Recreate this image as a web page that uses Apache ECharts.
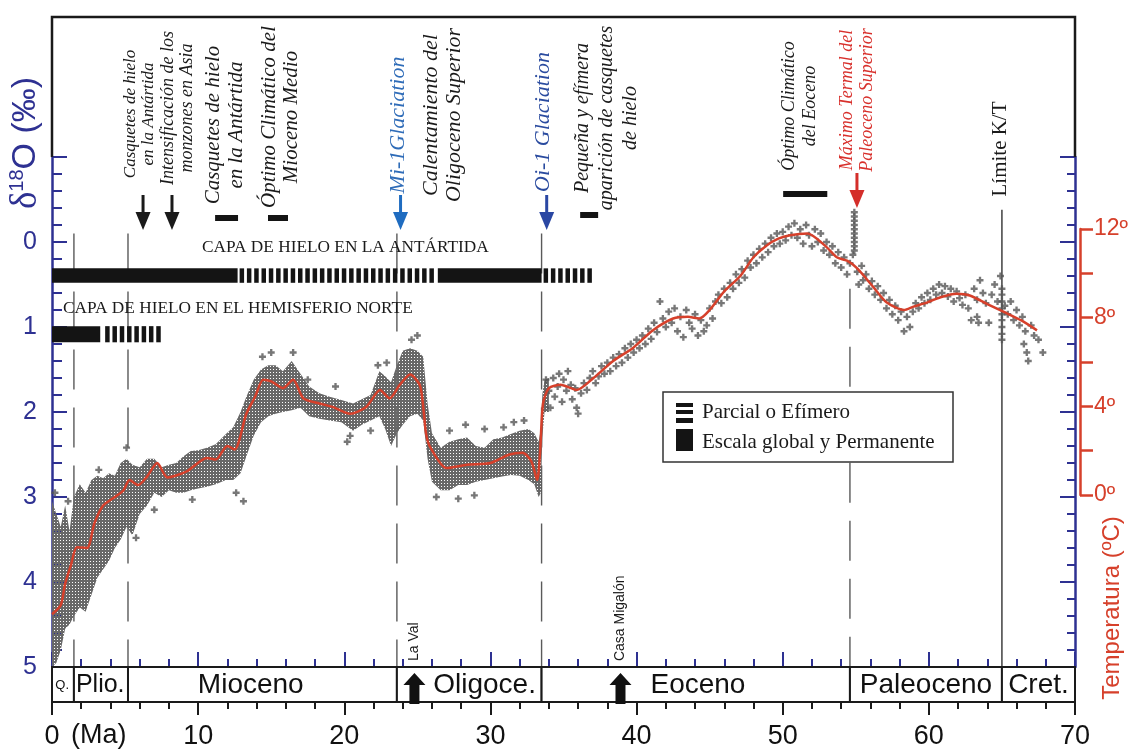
<!DOCTYPE html>
<html>
<head>
<meta charset="utf-8">
<script src="https://cdn.jsdelivr.net/npm/echarts@6.0.0/dist/echarts.min.js"></script>
<style>
html,body{margin:0;padding:0;background:#ffffff;}
#chart{width:1131px;height:752px;}
</style>
</head>
<body>
<div id="chart"></div>
<script>
// ================= DATA =================
// smoothed δ18O curve [age Ma, δ18O ‰]
const curvePts = [
[0.0,4.38],[0.6,4.27],[0.9,4.02],[1.3,3.8],[1.7,3.59],[2.4,3.6],[2.9,3.31],[3.5,3.1],[4.3,3.0],[4.9,2.92],
[5.3,2.8],[5.9,2.86],[6.5,2.76],[7.2,2.6],[7.9,2.77],[9.2,2.70],[10.6,2.54],[11.2,2.56],[12.0,2.40],[12.5,2.44],
[13.3,2.02],[13.9,1.82],[14.45,1.62],[15.0,1.64],[15.8,1.72],[16.5,1.62],[17.2,1.84],[18.3,1.90],[19.2,1.94],[20.4,2.02],
[21.5,1.94],[22.45,1.74],[23.1,1.84],[23.8,1.68],[24.5,1.56],[25.2,1.70],[25.6,2.26],[25.9,2.42],[27.0,2.66],[28.4,2.62],
[30.0,2.60],[31.3,2.50],[32.2,2.48],[32.8,2.58],[33.2,2.80],[33.4,2.46],[33.6,1.90],[34.0,1.72],[34.8,1.68],[35.9,1.74],
[37.05,1.60],[38.4,1.40],[39.8,1.24],[41.1,1.04],[42.5,0.90],[43.5,0.88],[44.3,0.90],[45.0,0.80],[46.0,0.58],[47.1,0.40],
[48.0,0.18],[48.9,0.04],[49.7,-0.04],[50.5,-0.08],[51.7,-0.10],[53.0,0.06],[53.7,0.18],[54.4,0.22],[55.1,0.31],[56.2,0.53],
[57.1,0.71],[58.3,0.80],[58.95,0.76],[59.9,0.71],[60.8,0.65],[61.9,0.61],[62.8,0.63],[64.0,0.73],[65.1,0.82],[66.3,0.92],[67.4,1.04]
];
// dense cloud of measurements: [age, lightest δ18O, heaviest δ18O]
const cloudBand = [
[0.0,3.05,5.0],[0.3,3.2,4.95],[0.6,3.35,4.8],[0.9,3.1,4.55],[1.2,3.4,4.5],[1.5,3.0,4.4],[1.9,2.85,4.3],[2.3,2.95,4.35],
[2.7,2.8,4.15],[3.1,2.75,3.95],[3.5,2.78,3.85],[3.9,2.72,3.75],[4.3,2.75,3.6],[4.7,2.6,3.5],[5.1,2.55,3.35],[5.5,2.62,3.45],
[6.0,2.65,3.2],[6.5,2.55,3.1],[7.0,2.55,2.95],[7.5,2.65,3.0],[8.0,2.62,2.92],[8.5,2.6,2.95],[9.0,2.52,2.95],[9.5,2.46,2.92],
[10.0,2.45,2.9],[10.6,2.42,2.88],[11.2,2.38,2.85],[11.9,2.26,2.8],[12.4,2.18,2.8],[12.9,2.0,2.72],[13.3,1.82,2.52],[13.8,1.62,2.28],
[14.3,1.5,2.12],[14.8,1.45,2.05],[15.3,1.45,2.02],[15.8,1.52,2.0],[16.4,1.4,1.98],[17.0,1.55,1.95],[17.6,1.7,2.05],[18.3,1.78,2.08],
[19.0,1.82,2.1],[19.8,1.86,2.12],[20.6,1.9,2.22],[21.2,1.85,2.15],[21.8,1.8,2.1],[22.4,1.52,2.05],[22.8,1.58,2.2],[23.2,1.65,2.4],
[23.6,1.45,2.25],[24.0,1.28,2.15],[24.5,1.25,2.05],[25.0,1.28,2.02],[25.4,1.35,2.1],[25.7,1.9,2.55],[26.0,2.25,2.82],[26.6,2.42,2.92],
[27.2,2.35,2.92],[27.8,2.32,2.86],[28.4,2.3,2.86],[29.0,2.4,2.82],[29.6,2.42,2.8],[30.2,2.32,2.78],[30.8,2.3,2.76],[31.4,2.26,2.74],
[32.0,2.22,2.75],[32.6,2.2,2.8],[33.0,2.25,2.85],[33.3,2.35,3.0],[33.45,2.2,2.95],[33.55,1.8,2.3],[33.7,1.62,2.0],[34.0,1.6,2.0]
];
// individual measurements [age, δ18O]
const scatterPts = [
[0.2,2.95],[1.1,3.05],[3.2,2.68],[5.1,2.42],[5.75,3.48],[7.0,3.15],[9.6,3.03],[12.6,2.95],[13.1,3.05],[14.4,1.35],
[15.0,1.3],[16.5,1.3],[17.5,1.62],[19.4,1.7],[20.2,2.35],[20.4,2.28],[21.8,2.22],[22.3,1.45],[22.9,1.42],[24.6,1.15],
[25.0,1.1],[26.3,3.0],[27.2,2.22],[28.3,2.15],[28.9,2.98],[29.6,2.2],[30.9,2.18],[31.6,2.12],[32.3,2.1],[27.8,3.02],
[33.8,1.62],[34.0,1.75],[34.1,1.95],[34.3,1.6],[34.4,1.82],[34.6,1.7],[34.7,1.55],[34.9,1.88],[35.0,1.62],[35.2,1.75],
[35.3,1.52],[35.5,1.68],[35.6,1.85],[35.8,1.72],[35.9,1.95],[36.0,2.02],[36.2,1.78],[36.4,1.66],[36.6,1.74],[36.8,1.6],
[37.0,1.52],[37.2,1.66],[37.4,1.58],[37.6,1.46],[37.8,1.55],[38.0,1.42],[38.2,1.52],[38.4,1.36],[38.6,1.46],[38.8,1.32],
[39.0,1.42],[39.2,1.25],[39.4,1.36],[39.6,1.2],[39.8,1.3],[40.0,1.15],[40.2,1.25],[40.4,1.1],[40.6,1.2],[40.8,1.02],
[41.0,1.14],[41.2,0.95],[41.4,1.06],[41.6,0.7],[41.8,0.9],[42.0,1.0],[42.2,0.82],[42.4,0.95],[42.6,0.78],[42.8,1.05],
[43.0,0.88],[43.2,1.12],[43.4,0.8],[43.6,0.95],[43.8,1.02],[44.0,0.85],[44.2,1.1],[44.4,0.92],[44.6,1.05],[44.8,0.98],
[45.0,0.78],[45.2,0.9],[45.4,0.7],[45.6,0.62],[45.8,0.72],[46.0,0.55],[46.2,0.65],[46.4,0.48],[46.6,0.55],[46.8,0.38],
[47.0,0.48],[47.2,0.32],[47.4,0.42],[47.6,0.22],[47.8,0.3],[48.0,0.15],[48.2,0.25],[48.4,0.08],[48.6,0.18],[48.8,0.02],
[49.0,0.12],[49.2,-0.05],[49.4,0.05],[49.6,-0.1],[49.8,0.02],[50.0,-0.12],[50.2,-0.02],[50.4,-0.18],[50.6,-0.08],[50.8,-0.22],
[51.0,-0.05],[51.2,-0.15],[51.4,0.02],[51.6,-0.2],[51.8,-0.08],[52.0,0.05],[52.2,-0.15],[52.4,0.0],[52.6,-0.1],[52.8,0.1],
[53.0,0.0],[53.2,0.15],[53.4,0.05],[53.6,0.25],[53.8,0.12],[54.0,0.3],[54.2,0.18],[54.4,0.38],[54.6,0.25],[54.8,0.15],
[54.9,-0.35],[54.9,-0.3],[54.9,-0.25],[54.9,-0.2],[54.9,-0.15],[54.9,-0.1],[54.9,-0.05],[54.9,0.0],[54.9,0.05],[54.9,0.1],
[55.1,0.35],[55.2,0.5],[55.4,0.28],[55.5,0.45],[55.7,0.38],[55.9,0.55],[56.1,0.46],[56.3,0.62],[56.5,0.52],[56.7,0.68],
[56.9,0.6],[57.1,0.78],[57.3,0.68],[57.5,0.85],[57.7,0.75],[57.9,0.92],[58.1,0.82],[58.3,1.05],[58.5,0.88],[58.7,1.0],
[58.9,0.82],[59.1,0.72],[59.3,0.78],[59.5,0.65],[59.7,0.72],[59.9,0.6],[60.1,0.68],[60.3,0.55],[60.5,0.62],[60.7,0.5],
[60.9,0.6],[61.1,0.52],[61.3,0.64],[61.5,0.55],[61.7,0.7],[61.9,0.58],[62.1,0.66],[62.3,0.74],[62.5,0.62],[62.7,0.78],
[62.9,0.92],[63.1,0.55],[63.3,0.68],[63.3,0.88],[63.4,0.95],[63.5,0.45],[63.7,0.6],[63.9,0.72],[64.1,0.95],[64.3,0.62],
[64.5,0.5],[64.7,0.7],[64.9,0.4],[65.0,0.55],[65.0,0.62],[65.0,0.7],[65.0,0.78],[65.0,0.85],[65.0,0.92],[65.0,1.0],
[65.0,1.08],[65.0,1.15],[65.2,0.75],[65.4,0.85],[65.6,0.7],[65.8,0.92],[66.0,0.8],[66.2,0.98],[66.4,0.88],[66.5,1.2],
[66.6,1.05],[66.7,1.3],[66.8,1.4],[67.0,0.98],[67.2,1.1],[67.5,1.15],[67.8,1.3]
];
// epochs
const epochNames = ['Q.', 'Plio.', 'Mioceno', 'Oligoce.', 'Eoceno', 'Paleoceno', 'Cret.'];
const epochBounds = [0, 1.5, 5.2, 23.6, 33.5, 54.6, 65.0, 70];
const epochLabelAge = [0.7, 3.3, 13.6, 29.6, 44.2, 59.8, 67.5];
const dashedBoundaryAges = [1.5, 5.2, 23.6, 33.5, 54.6];
const ktBoundaryAge = [65.0];
// study sites
const siteNames = ['La Val', 'Casa Migalón'];
const siteAges = [24.8, 38.9];
// ice sheets [from Ma, to Ma, 1 = global/permanent, 0 = partial/ephemeral]
const iceAntarctic = [[0, 12.7, 1], [12.7, 26.4, 0], [26.4, 33.5, 1], [33.5, 37.0, 0]];
const iceNorth = [[0, 3.3, 1], [3.5, 7.75, 0]];
// events
const eventArrowAges = [6.23, 8.21];
const glaciationArrowAges = [23.85, 33.85];
const petmArrowAge = [55.08];
const eventBars = [[11.16, 12.73], [14.78, 16.15], [36.14, 37.37], [50.03, 53.05]];
// axes
const xTicks = { min: 0, max: 70, interval: 10 };
const d18oTicks = { min: -1, max: 5, interval: 1 };
const tempTicks = { min: 0, max: 12, interval: 2 };

// ================= STYLE =================
const BLUE = '#2e3192';
const RED = '#d6402b';
const SERIF = '"Liberation Serif", "Times New Roman", serif';
const SANS = '"Liberation Sans", Arial, sans-serif';

const crossCanvas = document.createElement('canvas');
crossCanvas.width = 3; crossCanvas.height = 3;
(function () {
  const c = crossCanvas.getContext('2d');
  c.fillStyle = '#686868';
  c.fillRect(0, 0, 3, 3);
  c.clearRect(0, 0, 1, 1);
})();

const chart = echarts.init(document.getElementById('chart'), null, { renderer: 'canvas' });

function vtext(x, y, text, size, color, italic, lh, family) {
  return {
    type: 'text', x: x, y: y, rotation: Math.PI / 2, z: 20,
    style: {
      text: text, fontSize: size, fontStyle: italic ? 'italic' : 'normal',
      fontFamily: family || SERIF, fill: color || '#1a1a1a',
      align: 'center', verticalAlign: 'middle', lineHeight: lh || Math.round(size * 1.1)
    }
  };
}

const plusSymbol = 'path://M2,0H4V2H6V4H4V6H2V4H0V2H2Z';

function arrow(x, y0, y1, color) {
  const headH = Math.min(18, (y1 - y0) * 0.55);
  return { type: 'group', children: [
    { type: 'rect', shape: { x: x - 1.5, y: y0, width: 3, height: y1 - y0 - headH + 1 }, style: { fill: color } },
    { type: 'polygon', shape: { points: [[x - 7.5, y1 - headH], [x + 7.5, y1 - headH], [x, y1]] }, style: { fill: color } }
  ] };
}

const option = {
  backgroundColor: '#ffffff',
  animation: false,
  grid: [
    { left: 52, right: 56, top: 157, bottom: 85 },
    { left: 52, right: 56, top: 667, bottom: 50 },
    { left: 1060, right: 51, top: 229, bottom: 257 }
  ],
  xAxis: [
    {
      gridIndex: 0, type: 'value', min: xTicks.min, max: xTicks.max, interval: xTicks.interval, position: 'bottom',
      axisLine: { onZero: false, lineStyle: { color: '#1a1a1a', width: 2 } },
      axisTick: { inside: true, length: 15, lineStyle: { color: BLUE, width: 2 } },
      minorTick: { show: true, splitNumber: 5, length: 8, lineStyle: { color: BLUE, width: 2 } },
      axisLabel: { show: false }, splitLine: { show: false }
    },
    {
      gridIndex: 1, type: 'value', min: xTicks.min, max: xTicks.max, interval: xTicks.interval, position: 'bottom',
      axisLine: { onZero: false, lineStyle: { color: '#1a1a1a', width: 2 } },
      axisTick: { length: 13, lineStyle: { color: '#1a1a1a', width: 2 } },
      minorTick: { show: true, splitNumber: 5, length: 7, lineStyle: { color: '#1a1a1a', width: 2 } },
      axisLabel: { fontFamily: SANS, fontSize: 27, color: '#111', margin: 21 },
      splitLine: { show: false }
    },
    { gridIndex: 2, type: 'value', show: false, min: 0, max: 1 }
  ],
  yAxis: [
    {
      gridIndex: 0, type: 'value', inverse: true, min: d18oTicks.min, max: d18oTicks.max, interval: d18oTicks.interval,
      position: 'left',
      axisLine: { show: true, onZero: false, lineStyle: { color: BLUE, width: 2.5 } },
      axisTick: { show: true, inside: true, length: 15, lineStyle: { color: BLUE, width: 2 } },
      minorTick: { show: true, splitNumber: 5, length: 10, lineStyle: { color: BLUE, width: 2 } },
      axisLabel: { formatter: v => (v < 0 ? '' : String(v)), fontFamily: SANS, fontSize: 25, color: BLUE, margin: 15 },
      splitLine: { show: false }
    },
    {
      gridIndex: 0, type: 'value', inverse: true, min: d18oTicks.min, max: d18oTicks.max, interval: d18oTicks.interval,
      position: 'right',
      axisLine: { show: true, onZero: false, lineStyle: { color: BLUE, width: 2.5 } },
      axisTick: { show: true, inside: true, length: 15, lineStyle: { color: BLUE, width: 2 } },
      minorTick: { show: true, splitNumber: 5, length: 8, lineStyle: { color: BLUE, width: 2 } },
      axisLabel: { show: false }, splitLine: { show: false }
    },
    { gridIndex: 1, type: 'value', min: 0, max: 1, show: false },
    {
      gridIndex: 2, type: 'value', min: tempTicks.min, max: tempTicks.max, interval: tempTicks.interval, position: 'right',
      axisLine: { show: true, onZero: false, lineStyle: { color: RED, width: 2.5 } },
      axisTick: { show: true, length: 13, lineStyle: { color: RED, width: 2.5 } },
      axisLabel: { formatter: v => (v % 4 === 0 ? v + 'º' : ''), fontFamily: SANS, fontSize: 23, color: RED, margin: 14 },
      splitLine: { show: false }
    }
  ],
  series: [
    // dense cloud
    {
      type: 'custom', xAxisIndex: 0, yAxisIndex: 0, z: 2, silent: true,
      data: [[0, 0]],
      renderItem: function (params, api) {
        const pts = [];
        for (let i = 0; i < cloudBand.length; i++) pts.push(api.coord([cloudBand[i][0], cloudBand[i][1]]));
        for (let i = cloudBand.length - 1; i >= 0; i--) pts.push(api.coord([cloudBand[i][0], cloudBand[i][2]]));
        return { type: 'polygon', shape: { points: pts }, style: { fill: { image: crossCanvas, repeat: 'repeat' }, stroke: null } };
      }
    },
    // individual points
    {
      type: 'scatter', xAxisIndex: 0, yAxisIndex: 0, z: 3, silent: true,
      symbol: plusSymbol, symbolSize: 7, itemStyle: { color: '#555555' },
      data: scatterPts
    },
    // smoothed curve
    {
      type: 'line', xAxisIndex: 0, yAxisIndex: 0, z: 5, silent: true,
      data: curvePts, showSymbol: false, smooth: 0.25,
      lineStyle: { color: RED, width: 2.5 }
    },
    // dashed epoch boundaries
    {
      type: 'custom', xAxisIndex: 0, yAxisIndex: 0, z: 1, silent: true,
      data: dashedBoundaryAges.map(a => [a, 0]),
      renderItem: function (params, api) {
        const a = api.value(0);
        const p0 = api.coord([a, a > 50 ? 0.55 : -0.1]);
        const p1 = api.coord([a, 5]);
        return { type: 'line', shape: { x1: p0[0], y1: p0[1], x2: p1[0], y2: p1[1] },
          style: { stroke: '#5a5a5a', lineWidth: 1.4, lineDash: [40, 18] } };
      }
    },
    // K/T boundary
    {
      type: 'custom', xAxisIndex: 0, yAxisIndex: 0, z: 1, silent: true,
      data: ktBoundaryAge.map(a => [a, 0]),
      renderItem: function (params, api) {
        const a = api.value(0);
        const p0 = api.coord([a, -0.38]);
        const p1 = api.coord([a, 5]);
        return { type: 'line', shape: { x1: p0[0], y1: p0[1], x2: p1[0], y2: p1[1] },
          style: { stroke: '#222', lineWidth: 1.3 } };
      }
    },
    // ice sheet bars
    {
      type: 'custom', xAxisIndex: 0, yAxisIndex: 0, z: 6, silent: true,
      data: iceAntarctic.map(d => [d[0], d[1], d[2], 0]).concat(iceNorth.map(d => [d[0], d[1], d[2], 1])),
      renderItem: function (params, api) {
        const rows = [[0.31, 0.48], [0.99, 1.18]];
        const r = rows[api.value(3)];
        const p0 = api.coord([api.value(0), r[0]]);
        const p1 = api.coord([api.value(1), r[1]]);
        const h = p1[1] - p0[1];
        if (api.value(2) === 1) {
          return { type: 'rect', shape: { x: p0[0], y: p0[1], width: p1[0] - p0[0], height: h }, style: { fill: '#141414' } };
        }
        const children = [];
        for (let x = p0[0] + 2; x + 4.5 <= p1[0] + 0.5; x += 7.3) {
          children.push({ type: 'rect', shape: { x: x, y: p0[1], width: 4.5, height: h }, style: { fill: '#141414' } });
        }
        return { type: 'group', children: children };
      }
    },
    // event arrows (black)
    {
      type: 'custom', xAxisIndex: 0, yAxisIndex: 0, z: 6, silent: true,
      data: eventArrowAges.map(a => [a, 0]),
      renderItem: function (params, api) { return arrow(api.coord([api.value(0), 0])[0], 195, 230, '#1a1a1a'); }
    },
    // glaciation arrows (blue)
    {
      type: 'custom', xAxisIndex: 0, yAxisIndex: 0, z: 6, silent: true,
      data: glaciationArrowAges.map((a, i) => [a, i]),
      renderItem: function (params, api) {
        const cols = ['#1f6cc0', '#2a47a3'];
        return arrow(api.coord([api.value(0), 0])[0], 195, 230, cols[params.dataIndex]);
      }
    },
    // PETM arrow (red)
    {
      type: 'custom', xAxisIndex: 0, yAxisIndex: 0, z: 6, silent: true,
      data: petmArrowAge.map(a => [a, 0]),
      renderItem: function (params, api) { return arrow(api.coord([api.value(0), 0])[0], 173, 208, '#d42e2a'); }
    },
    // event duration bars
    {
      type: 'custom', xAxisIndex: 0, yAxisIndex: 0, z: 6, silent: true,
      data: eventBars,
      renderItem: function (params, api) {
        const barY = [218, 218, 215, 194];
        const x0 = api.coord([api.value(0), 0])[0];
        const x1 = api.coord([api.value(1), 0])[0];
        return { type: 'rect', shape: { x: x0, y: barY[params.dataIndex] - 3, width: x1 - x0, height: 6 }, style: { fill: '#141414' } };
      }
    },
    // site labels
    {
      type: 'custom', xAxisIndex: 0, yAxisIndex: 0, z: 6, silent: true,
      data: siteAges.map((a, i) => [a, 4.93, i]),
      renderItem: function (params, api) {
        const p = api.coord([api.value(0), api.value(1)]);
        return { type: 'text', x: p[0], y: p[1], rotation: Math.PI / 2,
          style: { text: siteNames[params.dataIndex], fontFamily: SANS, fontSize: 14, fill: '#1a1a1a', align: 'left', verticalAlign: 'middle' } };
      }
    },
    // epoch boxes
    {
      type: 'custom', xAxisIndex: 1, yAxisIndex: 2, z: 4, silent: true,
      data: epochNames.map((n, i) => [epochBounds[i], epochBounds[i + 1], epochLabelAge[i], i]),
      renderItem: function (params, api) {
        const p0 = api.coord([api.value(0), 1]);
        const p1 = api.coord([api.value(1), 0]);
        const pc = api.coord([api.value(2), 0.5]);
        const name = epochNames[params.dataIndex];
        const fs = name === 'Q.' ? 13 : (name === 'Plio.' ? 25 : 28);
        return { type: 'group', children: [
          { type: 'rect', shape: { x: p0[0], y: p0[1], width: p1[0] - p0[0], height: p1[1] - p0[1] },
            style: { fill: '#fff', stroke: '#1a1a1a', lineWidth: 2 } },
          { type: 'text', x: pc[0], y: pc[1] + 1,
            style: { text: name, fontFamily: SANS, fontSize: fs, fill: '#111', align: 'center', verticalAlign: 'middle' } }
        ] };
      }
    },
    // site arrows in epoch box
    {
      type: 'custom', xAxisIndex: 1, yAxisIndex: 2, z: 7, silent: true,
      data: siteAges.map(a => [a, 0]),
      renderItem: function (params, api) {
        const x = api.coord([api.value(0), 0])[0];
        const yb = api.coord([api.value(0), 0])[1] + 2;
        const yt = api.coord([api.value(0), 1])[1] + 6;
        return { type: 'polygon', shape: { points: [
          [x - 5, yb], [x - 5, yt + 12], [x - 11, yt + 12], [x, yt], [x + 11, yt + 12], [x + 5, yt + 12], [x + 5, yb]
        ] }, style: { fill: '#111' } };
      }
    }
  ],
  graphic: [
    { type: 'polyline', z: 30, shape: { points: [[52, 157], [52, 17], [1075, 17], [1075, 157]] },
      style: { stroke: '#1a1a1a', lineWidth: 2.5, fill: null } },
    // axis titles
    { type: 'text', x: 26, y: 143, rotation: Math.PI / 2, z: 20,
      style: { text: '{d|δ}{s|18}{o|O (‰)}', align: 'center', verticalAlign: 'middle',
        rich: {
          d: { fontFamily: SERIF, fontSize: 37, fill: BLUE, lineHeight: 38 },
          s: { fontFamily: SANS, fontSize: 20, fill: BLUE, lineHeight: 38, verticalAlign: 'top' },
          o: { fontFamily: SANS, fontSize: 34, fill: BLUE, lineHeight: 38 }
        } } },
    vtext(1112, 608, 'Temperatura (ºC)', 24, RED, false, 26, SANS),
    { type: 'text', x: 71, y: 736, z: 20, style: { text: '(Ma)', fontFamily: SANS, fontSize: 27, fill: '#111', align: 'left', verticalAlign: 'middle' } },
    // annotations
    vtext(140, 114, 'Casquetes de hielo\nen la Antártida', 17, '#1a1a1a', true, 18),
    vtext(178, 108, 'Intensificación de los\nmonzones en Asia', 18, '#1a1a1a', true, 19),
    vtext(225, 125, 'Casquetes de hielo\nen la Antártida', 21, '#1a1a1a', true, 23),
    vtext(280, 117, 'Óptimo Climático del\nMioceno Medio', 21, '#1a1a1a', true, 22),
    vtext(398, 125, 'Mi-1Glaciation', 22, '#2f6cb8', true, 24),
    vtext(443, 115, 'Calentamiento del\nOligoceno Superior', 22, '#1a1a1a', true, 23),
    vtext(543, 122, 'Oi-1 Glaciation', 22, '#2a4b9f', true, 24),
    vtext(607, 118, 'Pequeña y efímera\naparición de casquetes\nde hielo', 20, '#1a1a1a', true, 24),
    vtext(800, 106, 'Óptimo Climático\ndel Eoceno', 18, '#1a1a1a', true, 21),
    vtext(857, 100, 'Máximo Termal del\nPaleoceno Superior', 18, '#d8302c', true, 20),
    vtext(1000, 149, 'Límite K/T', 21, '#1a1a1a', false, 22),
    { type: 'text', x: 202, y: 247, z: 20, style: { text: 'CAPA DE HIELO EN LA ANTÁRTIDA', fontFamily: SERIF, fontSize: 17.3, fill: '#1a1a1a', align: 'left', verticalAlign: 'middle' } },
    { type: 'text', x: 63, y: 308, z: 20, style: { text: 'CAPA DE HIELO EN EL HEMISFERIO NORTE', fontFamily: SERIF, fontSize: 17.3, fill: '#1a1a1a', align: 'left', verticalAlign: 'middle' } },
    // legend
    { type: 'rect', z: 20, shape: { x: 663, y: 392, width: 290, height: 70 }, style: { fill: '#fff', stroke: '#333', lineWidth: 1.5 } },
    { type: 'rect', z: 21, shape: { x: 676, y: 403, width: 17, height: 4 }, style: { fill: '#141414' } },
    { type: 'rect', z: 21, shape: { x: 676, y: 410, width: 17, height: 4 }, style: { fill: '#141414' } },
    { type: 'rect', z: 21, shape: { x: 676, y: 418, width: 17, height: 5 }, style: { fill: '#141414' } },
    { type: 'rect', z: 21, shape: { x: 676, y: 429, width: 17, height: 22 }, style: { fill: '#141414' } },
    { type: 'text', x: 702, y: 412, z: 21, style: { text: 'Parcial o Efímero', fontFamily: SERIF, fontSize: 21, fill: '#1a1a1a', align: 'left', verticalAlign: 'middle' } },
    { type: 'text', x: 702, y: 442, z: 21, style: { text: 'Escala global y Permanente', fontFamily: SERIF, fontSize: 21, fill: '#1a1a1a', align: 'left', verticalAlign: 'middle' } }
  ]
};

chart.setOption(option);
</script>
</body>
</html>
